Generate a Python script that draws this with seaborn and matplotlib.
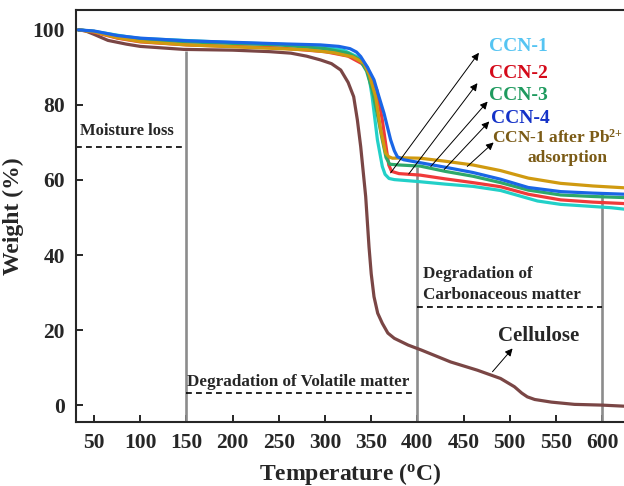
import numpy as np
import pandas as pd
import matplotlib
matplotlib.use("Agg")
import matplotlib.pyplot as plt
import seaborn as sns

# ---------------- data ----------------
series_names = ["Cellulose", "CCN-1", "CCN-2", "CCN-3", "CCN-1 after Pb", "CCN-4"]

cell_T = [33, 40, 50, 65, 85, 100, 147, 200, 240, 263, 280, 295, 307, 317, 325, 331, 335, 338.6, 344,
          347.6, 350, 353, 357, 362, 368, 375, 390, 404, 436, 465, 490, 505, 513, 519, 527, 545, 570, 600, 625]
cell_W = [100, 99.8, 98.8, 97.2, 96.2, 95.6, 94.8, 94.6, 94.2, 93.8, 93.0, 92.0, 91.0, 89.3, 86.0, 82.2,
          76.0, 68.9, 55.6, 42.2, 35.0, 28.9, 24.5, 21.8, 19.2, 17.8, 16.0, 14.7, 11.5, 9.3, 7.1, 4.9, 3.2,
          2.2, 1.5, 0.8, 0.2, 0.0, -0.3]

ccn1_T = [33, 50, 85, 100, 147, 200, 250, 263, 295, 320, 335, 341, 346, 351, 356.7, 362, 365, 369.3,
          375, 400, 430, 460, 490, 510, 530, 555, 580, 610, 625]
ccn1_W = [100, 99.6, 98.2, 97.7, 97.2, 96.6, 96.2, 96.0, 95.6, 94.6, 92.8, 91.5, 90.0, 82.2, 70.7, 63.6,
          61.5, 60.4, 60.1, 59.6, 58.9, 58.3, 57.2, 55.8, 54.4, 53.5, 53.1, 52.6, 52.2]

ccn2_T = [33, 50, 75, 100, 150, 200, 250, 300, 325, 340, 348, 356, 362, 366, 369, 372, 380, 403, 430,
          460, 490, 520, 555, 590, 625]
ccn2_W = [100, 99.4, 97.8, 96.8, 96.0, 95.6, 95.2, 94.2, 93.0, 91.0, 88.5, 84.0, 76.0, 69.0, 64.0, 62.3,
          61.7, 61.3, 60.3, 59.3, 58.2, 56.2, 54.7, 54.1, 53.7]

ccn3_T = [33, 50, 75, 100, 150, 200, 250, 300, 325, 338, 345, 351, 357, 362, 366, 370, 380, 403, 430,
          460, 490, 520, 555, 590, 625]
ccn3_W = [100, 99.6, 98.2, 97.5, 96.8, 96.4, 96.0, 95.0, 93.8, 92.0, 89.0, 84.0, 77.0, 70.7, 66.0, 64.2,
          64.0, 63.7, 62.3, 61.0, 59.3, 57.3, 56.0, 55.6, 55.3]

ccn4_T = [33, 50, 75, 100, 150, 200, 250, 295, 315, 327, 334, 338.6, 346, 353, 358, 363.8, 371, 375,
          378.3, 385, 403, 430, 460, 490, 520, 555, 590, 625]
ccn4_W = [100, 99.7, 98.5, 97.8, 97.1, 96.7, 96.3, 96.0, 95.6, 95.0, 94.1, 92.9, 90.0, 86.7, 82.5, 77.8,
          70.7, 67.8, 66.2, 65.4, 64.6, 63.4, 62.0, 60.2, 58.0, 56.9, 56.5, 56.2]

pb_T = [33, 50, 75, 100, 150, 200, 250, 280, 310, 330, 342.2, 348, 354.8, 360.3, 365.7, 369, 373, 385,
        403, 430, 460, 490, 520, 555, 590, 625]
pb_W = [100, 99.5, 97.9, 96.9, 96.0, 95.5, 95.0, 94.7, 93.9, 92.8, 91.1, 88.0, 82.2, 73.3, 67.1, 66.2,
        65.8, 65.9, 65.8, 65.0, 64.0, 62.5, 60.5, 59.1, 58.4, 57.9]

x_ticks = [50, 100, 150, 200, 250, 300, 350, 400, 450, 500, 550, 600]
y_ticks = [0, 20, 40, 60, 80, 100]
region_bounds = [150, 400, 600]
region_tops = [94.3, 63.5, 56.5]

curve_colors = {"Cellulose": "#7A4645", "CCN-1": "#22D0C8", "CCN-2": "#F03A3A",
                "CCN-3": "#2EA86A", "CCN-4": "#1A66E6", "CCN-1 after Pb": "#D09A10"}

frames = []
for name, T, W in [("Cellulose", cell_T, cell_W), ("CCN-1", ccn1_T, ccn1_W), ("CCN-2", ccn2_T, ccn2_W),
                   ("CCN-3", ccn3_T, ccn3_W), ("CCN-1 after Pb", pb_T, pb_W), ("CCN-4", ccn4_T, ccn4_W)]:
    frames.append(pd.DataFrame({"T": T, "W": W, "sample": name}))
df = pd.concat(frames, ignore_index=True)

# ---------------- style ----------------
sns.set_style("ticks")
plt.rcParams["font.family"] = ["Liberation Serif", "DejaVu Serif"]
plt.rcParams["font.weight"] = "bold"
plt.rcParams["mathtext.fontset"] = "custom"
plt.rcParams["mathtext.rm"] = "Liberation Serif:bold"
plt.rcParams["mathtext.bf"] = "Liberation Serif:bold"
plt.rcParams["mathtext.it"] = "Liberation Serif:bold"

fig = plt.figure(figsize=(6.24, 4.86), dpi=100)
ax = fig.add_axes([76 / 624, 1 - 422 / 486, 1 - 76 / 624 + 0.002, (422 - 10) / 486])

# region boundaries (grey vertical lines)
for xb, yt in zip(region_bounds, region_tops):
    ax.plot([xb, xb], [-4.6, yt], color="#8C8C8C", lw=1.9, zorder=1, solid_capstyle="butt")

sns.lineplot(data=df, x="T", y="W", hue="sample", hue_order=series_names, palette=curve_colors,
             estimator=None, sort=True, linewidth=2.3, legend=False, ax=ax, zorder=2)

ax.set_xlim(30.4, 625)
ax.set_ylim(-4.5, 105.3)
ax.set_xticks(x_ticks)
ax.set_yticks(y_ticks)
ax.tick_params(direction="in", length=5, width=1.4, labelsize=15.5, pad=8)
for lab in ax.get_xticklabels() + ax.get_yticklabels():
    lab.set_fontweight("bold")
for s in ["left", "bottom", "top"]:
    ax.spines[s].set_linewidth(1.5)
ax.spines["right"].set_visible(False)

ax.set_xlabel("Temperature ($^{o}$C)", fontsize=17, fontweight="bold", labelpad=6)
ax.set_ylabel("Weight (%)", fontsize=17, fontweight="bold", labelpad=6)

# region annotations
dash = dict(color="black", lw=1.2, ls=(0, (3.5, 2.5)))
ax.plot([30.4, 150], [68.8, 68.8], **dash)
ax.text(34.5, 73.1, "Moisture loss", fontsize=12, fontweight="bold", va="center", ha="left")
ax.plot([150, 398], [3.2, 3.2], **dash)
ax.text(151, 6.1, "Degradation of Volatile matter", fontsize=12.3, fontweight="bold", va="center", ha="left")
ax.plot([400, 600], [26.1, 26.1], **dash)
ax.text(406, 34.9, "Degradation of", fontsize=12.3, fontweight="bold", va="center", ha="left")
ax.text(406, 29.3, "Carbonaceous matter", fontsize=12.3, fontweight="bold", va="center", ha="left")

# sample labels with arrows
arrow = dict(arrowstyle="-|>", lw=0.7, color="black", mutation_scale=11, shrinkA=0, shrinkB=0)
labels = [
    ("CCN-1", "#55C4F2", (371, 61.9), (466.6, 93.9), (477.5, 95.5), 14),
    ("CCN-2", "#D40A1A", (390.6, 61.6), (465, 85.8), (477.5, 88.5), 14),
    ("CCN-3", "#1E9A5E", (414.5, 63.6), (476, 80.9), (477.5, 82.4), 14),
    ("CCN-4", "#1432C8", (429, 62.8), (477.8, 75.6), (479.5, 76.5), 14),
]
for txt, col, start, end, pos, fs in labels:
    ax.annotate("", xy=end, xytext=start, arrowprops=arrow)
    ax.text(pos[0], pos[1], txt, color=col, fontsize=fs, fontweight="bold", va="center", ha="left")

ax.annotate("", xy=(482.5, 70.0), xytext=(454, 63.6), arrowprops=arrow)
ax.text(480.5, 71.2, "CCN-1 after Pb$^{2{+}}$", color="#7B5B16", fontsize=12.5, fontweight="bold",
        va="center", ha="left", clip_on=False)
ax.text(562, 65.9, "adsorption", color="#7B5B16", fontsize=12.5, fontweight="bold", va="center", ha="center")

ax.annotate("", xy=(503, 15.1), xytext=(481.3, 8.9), arrowprops=arrow)
ax.text(487, 18.4, "Cellulose", fontsize=15, fontweight="bold", va="center", ha="left")

fig.savefig("out.png", dpi=100)
